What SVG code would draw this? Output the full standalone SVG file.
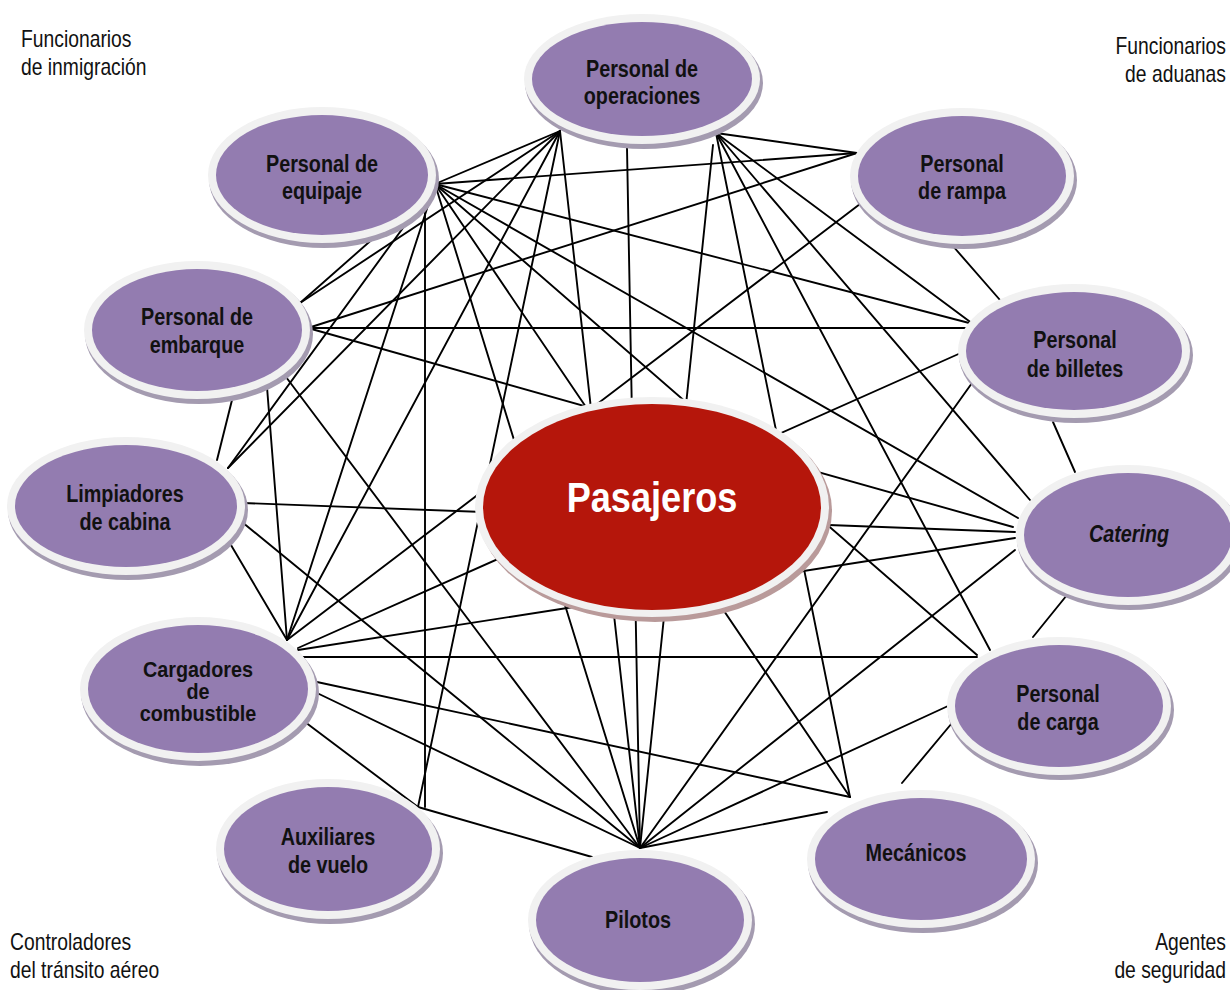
<svg xmlns="http://www.w3.org/2000/svg" width="1230" height="990" viewBox="0 0 1230 990">
<defs>
<style>
.ln{stroke:#000;stroke-width:1.9;fill:none;stroke-linecap:round}
.sh{fill:#a49bb0}
.ring{fill:#f1f1f1}
.pu{fill:#937cb0}
.t{font-family:"Liberation Sans",Arial,sans-serif;font-weight:bold;font-size:23px;fill:#111;text-anchor:middle}
.ts{font-family:"Liberation Sans",Arial,sans-serif;font-weight:bold;font-size:20px;fill:#111;text-anchor:middle}
.c{font-family:"Liberation Sans",Arial,sans-serif;font-size:23px;fill:#111}
</style>
</defs>
<rect width="1230" height="990" fill="#fff"/>
<g id="connectors" class="ln">
<line x1="560" y1="131" x2="435" y2="184"/>
<line x1="560" y1="131" x2="300" y2="303"/>
<line x1="560" y1="131" x2="228" y2="468"/>
<line x1="560" y1="131" x2="287" y2="640"/>
<line x1="560" y1="131" x2="418" y2="807"/>
<line x1="560" y1="131" x2="640" y2="848"/>
<line x1="627" y1="148" x2="640" y2="848"/>
<line x1="713" y1="145" x2="640" y2="848"/>
<line x1="716" y1="133" x2="857" y2="153"/>
<line x1="716" y1="133" x2="973" y2="324"/>
<line x1="716" y1="133" x2="1030" y2="500"/>
<line x1="716" y1="133" x2="990" y2="650"/>
<line x1="716" y1="133" x2="850" y2="797"/>
<line x1="435" y1="184" x2="857" y2="153"/>
<line x1="435" y1="184" x2="973" y2="324"/>
<line x1="435" y1="184" x2="1018" y2="518"/>
<line x1="435" y1="184" x2="977" y2="655"/>
<line x1="435" y1="184" x2="850" y2="797"/>
<line x1="435" y1="184" x2="640" y2="848"/>
<line x1="425" y1="205" x2="425" y2="807"/>
<line x1="435" y1="184" x2="287" y2="640"/>
<line x1="435" y1="184" x2="228" y2="468"/>
<line x1="435" y1="184" x2="300" y2="303"/>
<line x1="857" y1="153" x2="308" y2="328"/>
<line x1="860" y1="204" x2="287" y2="640"/>
<line x1="952" y1="245" x2="1000" y2="300"/>
<line x1="308" y1="328" x2="973" y2="328"/>
<line x1="308" y1="328" x2="1013" y2="527"/>
<line x1="283" y1="373" x2="640" y2="848"/>
<line x1="267" y1="387" x2="287" y2="640"/>
<line x1="232" y1="400" x2="217" y2="460"/>
<line x1="963" y1="352" x2="298" y2="648"/>
<line x1="972" y1="383" x2="640" y2="848"/>
<line x1="1053" y1="422" x2="1075" y2="472"/>
<line x1="243" y1="503" x2="1015" y2="532"/>
<line x1="242" y1="522" x2="640" y2="848"/>
<line x1="228" y1="540" x2="287" y2="640"/>
<line x1="298" y1="650" x2="1015" y2="538"/>
<line x1="303" y1="657" x2="977" y2="657"/>
<line x1="317" y1="682" x2="850" y2="797"/>
<line x1="317" y1="693" x2="640" y2="848"/>
<line x1="305" y1="722" x2="418" y2="807"/>
<line x1="1015" y1="550" x2="640" y2="848"/>
<line x1="1067" y1="595" x2="1033" y2="637"/>
<line x1="948" y1="706" x2="640" y2="848"/>
<line x1="952" y1="723" x2="902" y2="783"/>
<line x1="827" y1="812" x2="640" y2="848"/>
<line x1="418" y1="807" x2="592" y2="857"/>
</g>
<g id="n-operaciones">
<ellipse class="sh" cx="644" cy="83" rx="119" ry="66"/>
<ellipse class="ring" cx="642" cy="79" rx="118" ry="65"/>
<ellipse class="pu" cx="642" cy="79" rx="110" ry="57"/>
<text class="t" transform="translate(642,77) scale(0.86,1)">Personal de</text>
<text class="t" transform="translate(642,104) scale(0.86,1)">operaciones</text>
</g>
<g id="n-equipaje">
<ellipse class="sh" cx="324" cy="179" rx="115" ry="69"/>
<ellipse class="ring" cx="322" cy="175" rx="114" ry="68"/>
<ellipse class="pu" cx="322" cy="175" rx="106" ry="60"/>
<text class="t" transform="translate(322,172) scale(0.86,1)">Personal de</text>
<text class="t" transform="translate(322,199) scale(0.86,1)">equipaje</text>
</g>
<g id="n-rampa">
<ellipse class="sh" cx="964" cy="180" rx="113" ry="69"/>
<ellipse class="ring" cx="962" cy="176" rx="112" ry="68"/>
<ellipse class="pu" cx="962" cy="176" rx="104" ry="60"/>
<text class="t" transform="translate(962,172) scale(0.86,1)">Personal</text>
<text class="t" transform="translate(962,199) scale(0.86,1)">de rampa</text>
</g>
<g id="n-embarque">
<ellipse class="sh" cx="199" cy="334" rx="114" ry="70"/>
<ellipse class="ring" cx="197" cy="330" rx="113" ry="69"/>
<ellipse class="pu" cx="197" cy="330" rx="105" ry="61"/>
<text class="t" transform="translate(197,325) scale(0.86,1)">Personal de</text>
<text class="t" transform="translate(197,353) scale(0.86,1)">embarque</text>
</g>
<g id="n-billetes">
<ellipse class="sh" cx="1076" cy="355" rx="117" ry="68"/>
<ellipse class="ring" cx="1074" cy="351" rx="116" ry="67"/>
<ellipse class="pu" cx="1074" cy="351" rx="108" ry="59"/>
<text class="t" transform="translate(1075,348) scale(0.86,1)">Personal</text>
<text class="t" transform="translate(1075,377) scale(0.86,1)">de billetes</text>
</g>
<g id="n-limpiadores">
<ellipse class="sh" cx="128" cy="510" rx="120" ry="70"/>
<ellipse class="ring" cx="126" cy="506" rx="119" ry="69"/>
<ellipse class="pu" cx="126" cy="506" rx="111" ry="61"/>
<text class="t" transform="translate(125,502) scale(0.86,1)">Limpiadores</text>
<text class="t" transform="translate(125,530) scale(0.86,1)">de cabina</text>
</g>
<g id="n-catering">
<ellipse class="sh" cx="1130" cy="539" rx="113" ry="71"/>
<ellipse class="ring" cx="1128" cy="535" rx="112" ry="70"/>
<ellipse class="pu" cx="1128" cy="535" rx="104" ry="62"/>
<text class="t" font-style="italic" transform="translate(1129,542) scale(0.86,1)">Catering</text>
</g>
<g id="n-cargadores">
<ellipse class="sh" cx="200" cy="693" rx="119" ry="73"/>
<ellipse class="ring" cx="198" cy="689" rx="118" ry="72"/>
<ellipse class="pu" cx="198" cy="689" rx="110" ry="64"/>
<text class="ts" transform="translate(198,677) scale(0.99,1.1)">Cargadores</text>
<text class="ts" transform="translate(198,699) scale(0.99,1.1)">de</text>
<text class="ts" transform="translate(198,721) scale(0.99,1.1)">combustible</text>
</g>
<g id="n-carga">
<ellipse class="sh" cx="1061" cy="710" rx="113" ry="70"/>
<ellipse class="ring" cx="1059" cy="706" rx="112" ry="69"/>
<ellipse class="pu" cx="1059" cy="706" rx="104" ry="61"/>
<text class="t" transform="translate(1058,702) scale(0.86,1)">Personal</text>
<text class="t" transform="translate(1058,730) scale(0.86,1)">de carga</text>
</g>
<g id="n-auxiliares">
<ellipse class="sh" cx="330" cy="853" rx="113" ry="71"/>
<ellipse class="ring" cx="328" cy="849" rx="112" ry="70"/>
<ellipse class="pu" cx="328" cy="849" rx="104" ry="62"/>
<text class="t" transform="translate(328,845) scale(0.86,1)">Auxiliares</text>
<text class="t" transform="translate(328,873) scale(0.86,1)">de vuelo</text>
</g>
<g id="n-mecanicos">
<ellipse class="sh" cx="923" cy="863" rx="115" ry="70"/>
<ellipse class="ring" cx="921" cy="859" rx="114" ry="69"/>
<ellipse class="pu" cx="921" cy="859" rx="106" ry="61"/>
<text class="t" transform="translate(916,861) scale(0.86,1)">Mecánicos</text>
</g>
<g id="n-pilotos">
<ellipse class="sh" cx="642" cy="924" rx="113" ry="71"/>
<ellipse class="ring" cx="640" cy="920" rx="112" ry="70"/>
<ellipse class="pu" cx="640" cy="920" rx="104" ry="62"/>
<text class="t" transform="translate(638,928) scale(0.86,1)">Pilotos</text>
</g>
<g id="n-pasajeros">
<ellipse cx="655" cy="511" rx="177" ry="111" fill="#b99a9a"/>
<ellipse cx="652" cy="507" rx="177" ry="110" fill="#f1f1f1"/>
<ellipse cx="652" cy="507" rx="169" ry="103" fill="#b5160b"/>
<text transform="translate(652,512) scale(0.86,1)" font-family="Liberation Sans, Arial, sans-serif" font-weight="bold" font-size="42" fill="#fff" text-anchor="middle">Pasajeros</text>
</g>
<g id="corner-labels">
<text class="c" transform="translate(21,47) scale(0.84,1)">Funcionarios</text>
<text class="c" transform="translate(21,75) scale(0.84,1)">de inmigración</text>
<text class="c" text-anchor="end" transform="translate(1226,54) scale(0.84,1)">Funcionarios</text>
<text class="c" text-anchor="end" transform="translate(1226,82) scale(0.84,1)">de aduanas</text>
<text class="c" transform="translate(10,950) scale(0.84,1)">Controladores</text>
<text class="c" transform="translate(10,978) scale(0.84,1)">del tránsito aéreo</text>
<text class="c" text-anchor="end" transform="translate(1226,950) scale(0.84,1)">Agentes</text>
<text class="c" text-anchor="end" transform="translate(1226,978) scale(0.84,1)">de seguridad</text>
</g>
</svg>
